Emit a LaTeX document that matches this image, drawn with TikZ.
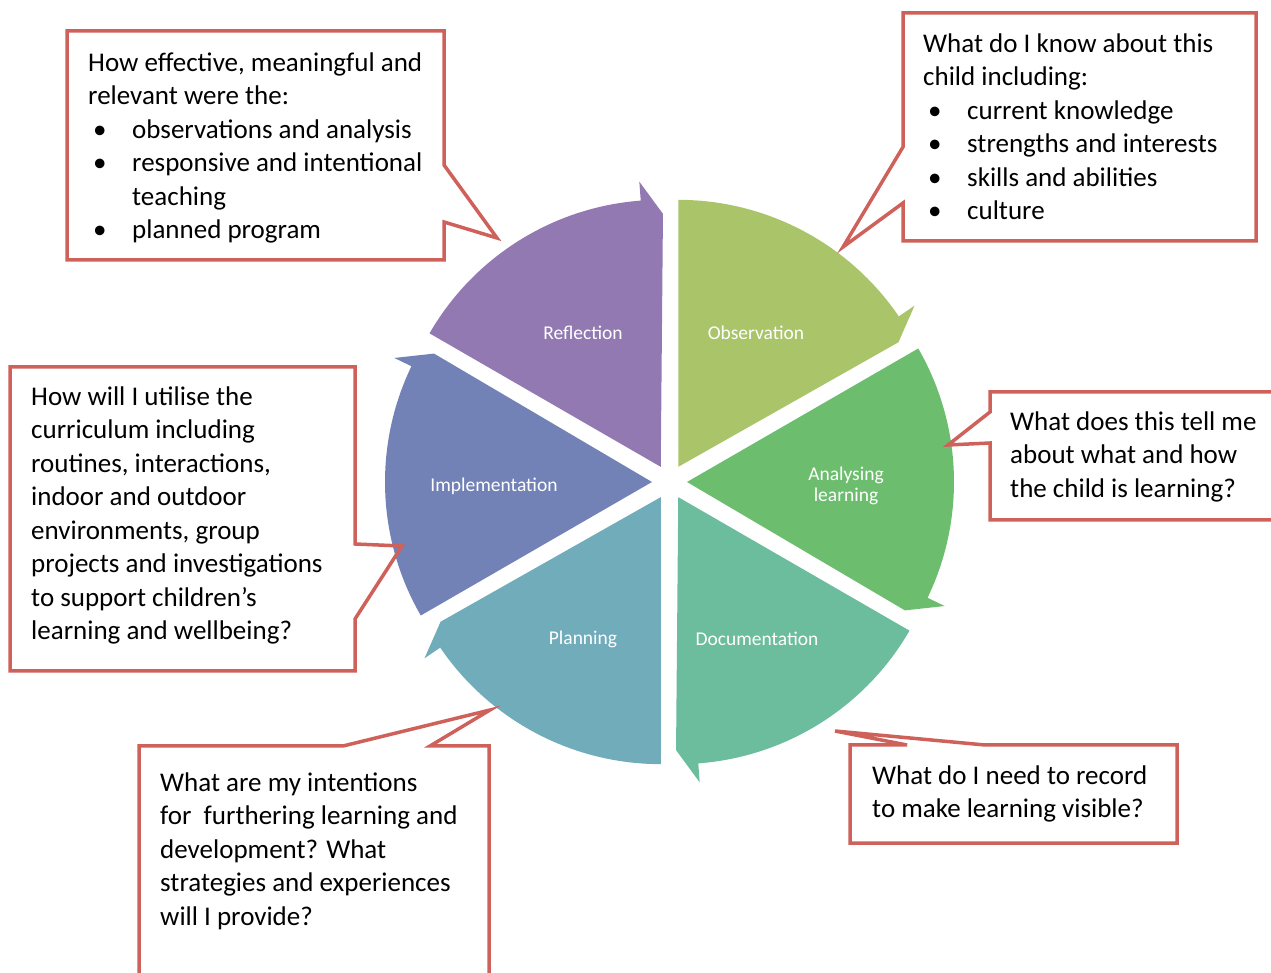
\documentclass[tikz,border=0pt]{standalone}
\usepackage{fontspec}
\setmainfont{Carlito}
\usetikzlibrary{positioning}

\definecolor{obscol}{RGB}{170,196,106}
\definecolor{anacol}{RGB}{108,190,110}
\definecolor{doccol}{RGB}{108,188,158}
\definecolor{placol}{RGB}{113,172,187}
\definecolor{impcol}{RGB}{114,130,182}
\definecolor{refcol}{RGB}{146,121,178}
\definecolor{callred}{RGB}{206,97,90}

\tikzset{
  callout/.style={draw=callred, line width=3.5pt},
  boxtext/.style={anchor=north west, inner sep=0pt, align=left,
    font=\fontsize{27}{33.5}\selectfont},
  seglabel/.style={text=white, inner sep=0pt, align=center,
    font=\fontsize{19.5}{20.5}\selectfont}
}

\newcommand{\bul}{\makebox[44pt][l]{\hspace{5pt}\textbullet}}

\begin{document}
\begin{tikzpicture}[x=1pt,y=1pt]

\useasboundingbox (0,0) rectangle (1271,972);
\clip (0,0) rectangle (1271,972);

% Cycle segments
\begin{scope}[shift={(669.5,490)}]
\foreach \b/\col in {60/obscol,0/anacol,-60/doccol,-120/placol,180/impcol,120/refcol}
{
    \pgfmathsetmacro\s{\b+30}
    \pgfmathsetmacro\e{\b-25.7}
    \pgfmathsetmacro\t{\b-30.5}
    \fill[\col, shift={(\b:17.5)}]
    (0,0) -- (\s:267)
    arc[start angle=\s, end angle=\e, radius=267]
    -- (\e:286) -- (\t:253) -- cycle;
}
\end{scope}

% Segment labels
\node[seglabel] (reflection) at (583,639) {Reflection};
\node[seglabel] (observation) at (756,639) {Observation};
\node[seglabel] (analysing) at (846,486) {Analysing\\learning};
\node[seglabel] (documentation) at (757,333) {Documentation};
\node[seglabel] (planning) at (583,333) {Planning};
\node[seglabel] (implementation) at (494,486) {Implementation};

% Callouts
\draw[callout] (67,941) -- (444,941) -- (444,807) -- (497,734)
    -- (444,750) -- (444,712) -- (67,712) -- cycle;
\draw[callout] (903,959) -- (1256,959) -- (1256,731) -- (903,731)
    -- (903,769) -- (843,725) -- (903,825) -- cycle;
\draw[callout] (990,580) -- (1290,580) -- (1290,452) -- (990,452)
    -- (990,529) -- (948,527) -- (990,560) -- cycle;
\draw[callout] (10,605) -- (355,605) -- (355,428) -- (402,426)
    -- (355,353) -- (355,301) -- (10,301) -- cycle;
\draw[callout] (139,-18) -- (139,226) -- (343,226) -- (490,262)
    -- (430,226) -- (489,226) -- (489,-18) -- cycle;
\draw[callout] (850,129) -- (850,227) -- (907,227) -- (835,241)
    -- (985,227) -- (1177,227) -- (1177,129) -- cycle;

% Questions
\node[boxtext] (reflq) at (88,919.5)
{How effective, meaningful and\\
relevant were the:\\
\bul observations and analysis\\
\bul responsive and intentional\\
\hspace*{44pt}teaching\\
\bul planned program};

\node[boxtext] (obsq) at (923,938.5)
{What do I know about this\\
child including:\\
\bul current knowledge\\
\bul strengths and interests\\
\bul skills and abilities\\
\bul culture};

\node[boxtext] (anaq) at (1010,560.5)
{What does this tell me\\
about what and how\\
the child is learning?};

\node[boxtext] (impq) at (31,585.5)
{How will I utilise the\\
curriculum including\\
routines, interactions,\\
indoor and outdoor\\
environments, group\\
projects and investigations\\
to support children’s\\
learning and wellbeing?};

\node[boxtext] (plaq) at (160,199.5)
{What are my intentions\\
for\ \ furthering learning and\\
development? What\\
strategies and experiences\\
will I provide?};

\node[boxtext] (docq) at (872,206.5)
{What do I need to record\\
to make learning visible?};

\end{tikzpicture}
\end{document}
